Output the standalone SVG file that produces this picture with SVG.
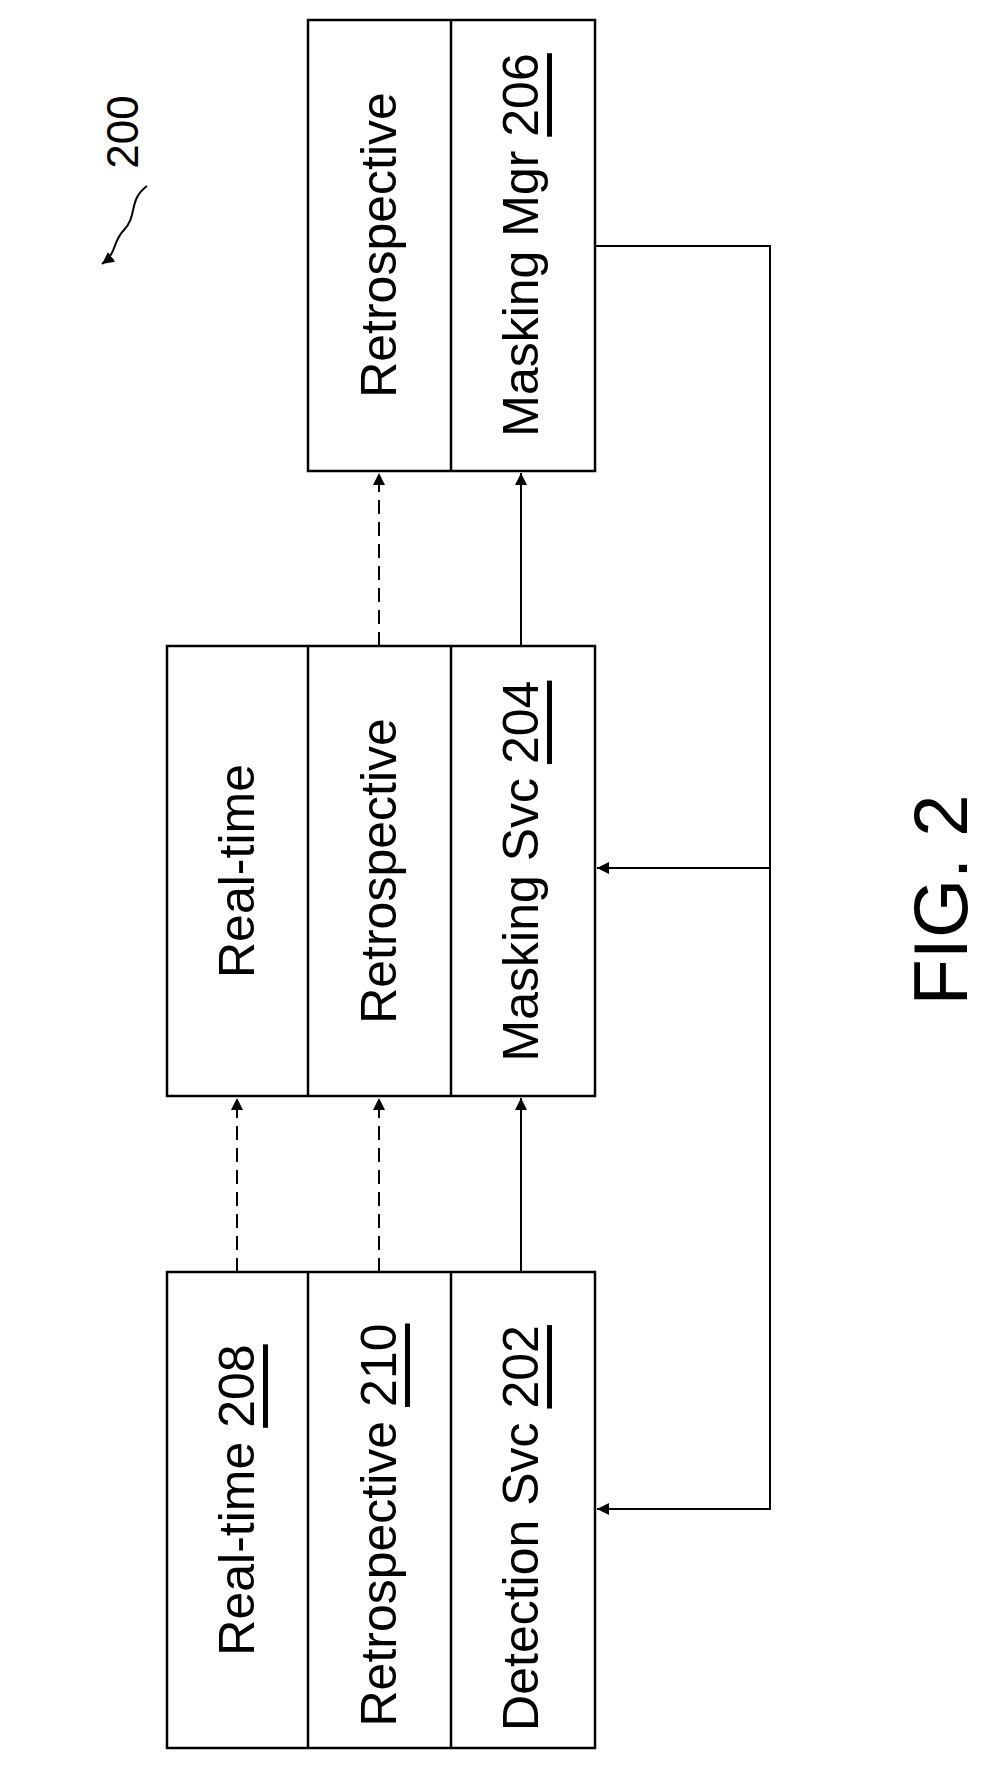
<svg xmlns="http://www.w3.org/2000/svg" width="992" height="1766" viewBox="0 0 992 1766">
<style>
.b{fill:none;stroke:#000;stroke-width:2.5}
.c{fill:none;stroke:#000;stroke-width:2}
.d{stroke-dasharray:14,8}
text{font-family:"Liberation Sans",Arial,sans-serif;font-size:50px;fill:#000;text-anchor:middle;dominant-baseline:central}
</style>
<defs>
<marker id="a" markerWidth="14" markerHeight="14" refX="12" refY="6" orient="auto" markerUnits="userSpaceOnUse"><path d="M0,0 L12,6 L0,12 Z" fill="#000"/></marker>
</defs>
<g id="ref200">
<text x="122" y="132" transform="rotate(-90 122 132)" style="font-size:44px">200</text>
<path class="c" d="M147,186 C128,200 138,215 124,230 C112,242 118,252 102,264" marker-end="url(#a)"/>
</g>
<g id="detection">
<rect class="b" x="167" y="1272" width="428" height="476"/>
<line class="b" x1="308" y1="1272" x2="308" y2="1748"/>
<line class="b" x1="451" y1="1272" x2="451" y2="1748"/>
<text x="237" y="1500" transform="rotate(-90 237 1500)">Real-time <tspan text-decoration="underline">208</tspan></text>
<text x="379" y="1525" transform="rotate(-90 379 1525)">Retrospective <tspan text-decoration="underline">210</tspan></text>
<text x="521" y="1528" transform="rotate(-90 521 1528)">Detection Svc <tspan text-decoration="underline">202</tspan></text>
</g>
<g id="masking-svc">
<rect class="b" x="167" y="646" width="428" height="450"/>
<line class="b" x1="308" y1="646" x2="308" y2="1096"/>
<line class="b" x1="451" y1="646" x2="451" y2="1096"/>
<text x="237" y="871" transform="rotate(-90 237 871)">Real-time</text>
<text x="379" y="871" transform="rotate(-90 379 871)">Retrospective</text>
<text x="521" y="871" transform="rotate(-90 521 871)">Masking Svc <tspan text-decoration="underline">204</tspan></text>
</g>
<g id="masking-mgr">
<rect class="b" x="308" y="20" width="287" height="451"/>
<line class="b" x1="451" y1="20" x2="451" y2="471"/>
<text x="379" y="245" transform="rotate(-90 379 245)">Retrospective</text>
<text x="521" y="245" transform="rotate(-90 521 245)">Masking Mgr <tspan text-decoration="underline">206</tspan></text>
</g>
<text id="fig" x="940" y="900" transform="rotate(-90 940 900)" style="font-size:76px">FIG. 2</text>
<g id="connectors">
<line class="c d" x1="237" y1="1272" x2="237" y2="1098" marker-end="url(#a)"/>
<line class="c d" x1="379" y1="1272" x2="379" y2="1098" marker-end="url(#a)"/>
<line class="c" x1="521" y1="1272" x2="521" y2="1098" marker-end="url(#a)"/>
<line class="c d" x1="379" y1="646" x2="379" y2="473" marker-end="url(#a)"/>
<line class="c" x1="521" y1="646" x2="521" y2="473" marker-end="url(#a)"/>
<path class="c" d="M595,246 H770 V1509 H597" marker-end="url(#a)"/>
<path class="c" d="M770,868 H597" marker-end="url(#a)"/>
</g>
</svg>
